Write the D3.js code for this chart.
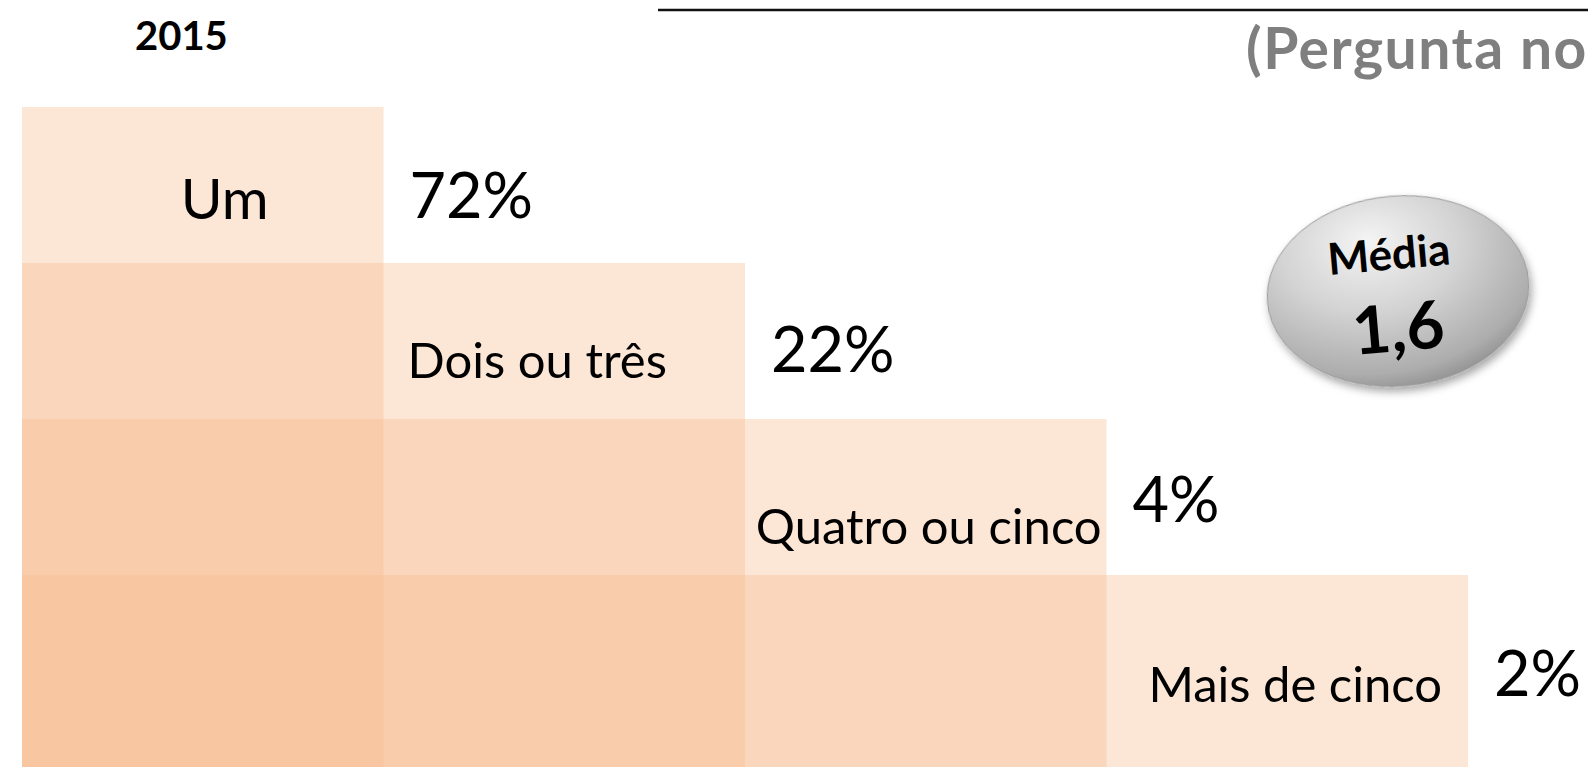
<!DOCTYPE html>
<html>
<head>
<meta charset="utf-8">
<script src="https://cdn.jsdelivr.net/npm/d3@7"></script>
<style>
  body { margin: 0; background: #fff; }
  svg { display: block; font-family: Lato, "Open Sans", sans-serif; }
</style>
</head>
<body>
<div id="vis"></div>
<script>
// data
var categories = ["Um", "Dois ou três", "Quatro ou cinco", "Mais de cinco"];
var shares = [72, 22, 4, 2];
var yearLabel = "2015";
var meanLabel = "Média";
var meanValue = 1.6;
var subtitle = "(Pergunta no";

var width = 1588, height = 767;

/* layout of the staircase */
var stairLeft = 22, stairRight = 1468, stairTop = 107, stairBottom = 731;
// labels are not quite centred in their steps in the original
var labelShiftX = [22, -27, 3, 8];
var labelShiftY = [0, 0, 10, 12];
var pctShiftY = [0, -2, -8, 10];

var svg = d3.select("#vis")
    .append("svg")
    .attr("width", width)
    .attr("height", height);

var defs = svg.append("defs");

var grad = defs.append("radialGradient")
    .attr("id", "meanFill")
    .attr("cx", "42%").attr("cy", "30%").attr("r", "75%")
    .attr("fx", "40%").attr("fy", "22%");
grad.append("stop").attr("offset", "0%").attr("stop-color", "#f4f4f4");
grad.append("stop").attr("offset", "45%").attr("stop-color", "#d4d4d4");
grad.append("stop").attr("offset", "85%").attr("stop-color", "#adadad");
grad.append("stop").attr("offset", "100%").attr("stop-color", "#8c8c8c");

var shadow = defs.append("filter")
    .attr("id", "shadow")
    .attr("x", "-20%").attr("y", "-20%").attr("width", "140%").attr("height", "150%");
shadow.append("feDropShadow")
    .attr("dx", 2).attr("dy", 5).attr("stdDeviation", 4)
    .attr("flood-color", "#000").attr("flood-opacity", 0.35);

/* columns and rows share the same categories */
var x = d3.scaleBand()
    .domain(categories)
    .range([stairLeft, stairRight]);

var y = d3.scaleBand()
    .domain(categories)
    .range([stairTop, stairBottom]);

var bw = x.bandwidth(), bh = y.bandwidth();

// each step is a block from the left edge to its column and from its row
// down to the bottom; the translucent blocks stack and darken bottom-left
svg.selectAll("rect.step")
    .data(categories)
    .enter()
    .append("rect")
    .attr("class", "step")
    .attr("x", stairLeft)
    .attr("y", function(d) { return y(d); })
    .attr("width", function(d) { return x(d) + bw - stairLeft; })
    .attr("height", function(d) { return height - y(d); })
    .attr("fill", "#f7bb90")
    .attr("fill-opacity", 0.37);

svg.selectAll("text.label")
    .data(categories)
    .enter()
    .append("text")
    .attr("class", "label")
    .attr("x", function(d, i) { return x(d) + bw / 2 + labelShiftX[i]; })
    .attr("y", function(d, i) { return y(d) + bh * (i === 0 ? 0.72 : 0.74) + labelShiftY[i]; })
    .attr("text-anchor", "middle")
    .attr("font-size", function(d, i) { return i === 0 ? 57 : 49; })
    .attr("fill", "#000")
    .text(function(d) { return d; });

svg.selectAll("text.pct")
    .data(shares)
    .enter()
    .append("text")
    .attr("class", "pct")
    .attr("x", function(d, i) { return x(categories[i]) + bw + 26; })
    .attr("y", function(d, i) { return y(categories[i]) + bh * 0.71 + pctShiftY[i]; })
    .attr("font-size", 63)
    .attr("fill", "#000")
    .text(function(d) { return d + "%"; });

/* year and header bits */
svg.append("text")
    .attr("x", 135)
    .attr("y", 50)
    .attr("font-size", 40)
    .attr("font-weight", "bold")
    .text(yearLabel);

svg.append("line")
    .attr("x1", 658).attr("x2", width)
    .attr("y1", 10).attr("y2", 10)
    .attr("stroke", "#111")
    .attr("stroke-width", 2.5);

svg.append("text")
    .attr("x", 1246)
    .attr("y", 69)
    .attr("font-size", 57)
    .attr("letter-spacing", 1.5)
    .attr("font-weight", "bold")
    .attr("fill", "#7f7f7f")
    .text(subtitle);

/* mean badge */
var badge = svg.append("g")
    .attr("transform", "translate(1398,291) rotate(-5)");

badge.append("ellipse")
    .attr("rx", 131)
    .attr("ry", 95)
    .attr("fill", "url(#meanFill)")
    .attr("stroke", "#9a9a9a")
    .attr("stroke-width", 1)
    .attr("filter", "url(#shadow)");

badge.append("text")
    .attr("x", -6)
    .attr("y", -22)
    .attr("text-anchor", "middle")
    .attr("font-size", 44)
    .attr("font-weight", "bold")
    .text(meanLabel);

badge.append("text")
    .attr("x", -3)
    .attr("y", 60)
    .attr("text-anchor", "middle")
    .attr("font-size", 66)
    .attr("font-weight", "bold")
    .text(d3.format(".1f")(meanValue).replace(".", ","));
</script>
</body>
</html>
